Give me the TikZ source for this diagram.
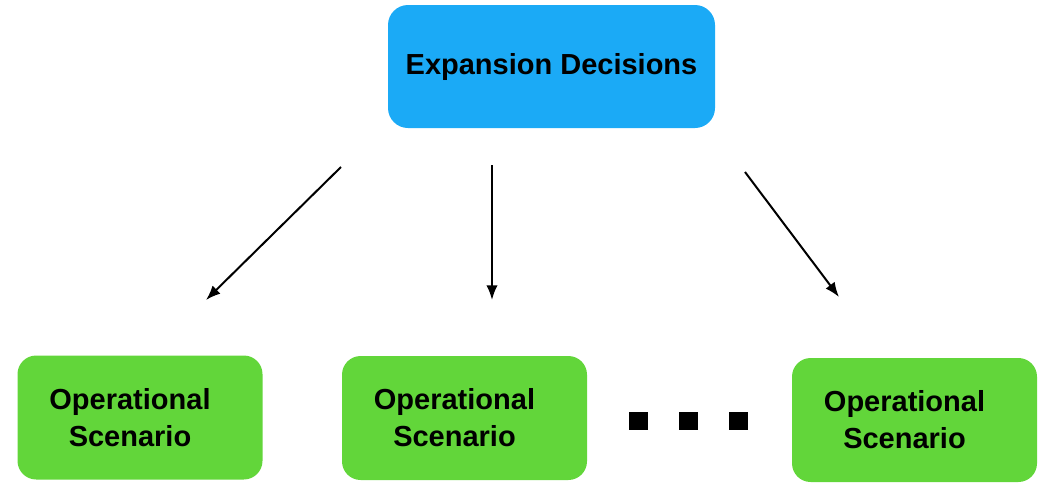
\documentclass[tikz,border=0pt]{standalone}
\usepackage{xcolor}
\usepackage{fontspec}
\setmainfont{Liberation Sans}
\usepackage{tikz}
\usetikzlibrary{arrows.meta}

\definecolor{expblue}{RGB}{27,170,246}
\definecolor{opgreen}{RGB}{98,214,58}

\tikzset{
  boxfont/.style={font=\bfseries\fontsize{21.75}{27.75}\selectfont},
  expbox/.style={fill=expblue, draw=none, rounded corners=15pt, minimum width=245.25pt, minimum height=92.25pt, boxfont, align=center, inner sep=0pt},
  opbox/.style={fill=opgreen, draw=none, rounded corners=14pt, minimum width=183.75pt, minimum height=93pt, inner sep=0pt},
  optext/.style={boxfont, align=center, inner sep=0pt, xshift=-7.5pt},
  dotsq/.style={fill=black, draw=none, minimum size=14pt, inner sep=0pt},
  arr/.style={line width=1.5pt, -{Latex[length=11pt,width=8.5pt]}}
}

\begin{document}
\begin{tikzpicture}[x=0.75pt,y=0.75pt,yscale=-1,xscale=1]
        \useasboundingbox (0,0) rectangle (1041,482);

        \node [expbox] (exp) at (551.5,66.5) {Expansion Decisions};

        \node [opbox, label={[optext]center:{Operational\\Scenario}}] (op1) at (140,417.5) {};
        \node [opbox, label={[optext]center:{Operational\\Scenario}}] (op2) at (464.5,418) {};
        \node [opbox, label={[optext]center:{Operational\\Scenario}}] (op3) at (914.5,420) {};

        \node [dotsq] (d1) at (638.5,421) {};
        \node [dotsq] (d2) at (688.5,421) {};
        \node [dotsq] (d3) at (738.5,421) {};

        \coordinate (s1) at (341,167);
        \coordinate (e1) at (206,300);
        \coordinate (s2) at (492,165);
        \coordinate (e2) at (492,300);
        \coordinate (s3) at (745,172);
        \coordinate (e3) at (839,297);

        \draw [arr] (s1) -- (e1);
        \draw [arr] (s2) -- (e2);
        \draw [arr] (s3) -- (e3);

    \end{tikzpicture}
\end{document}
